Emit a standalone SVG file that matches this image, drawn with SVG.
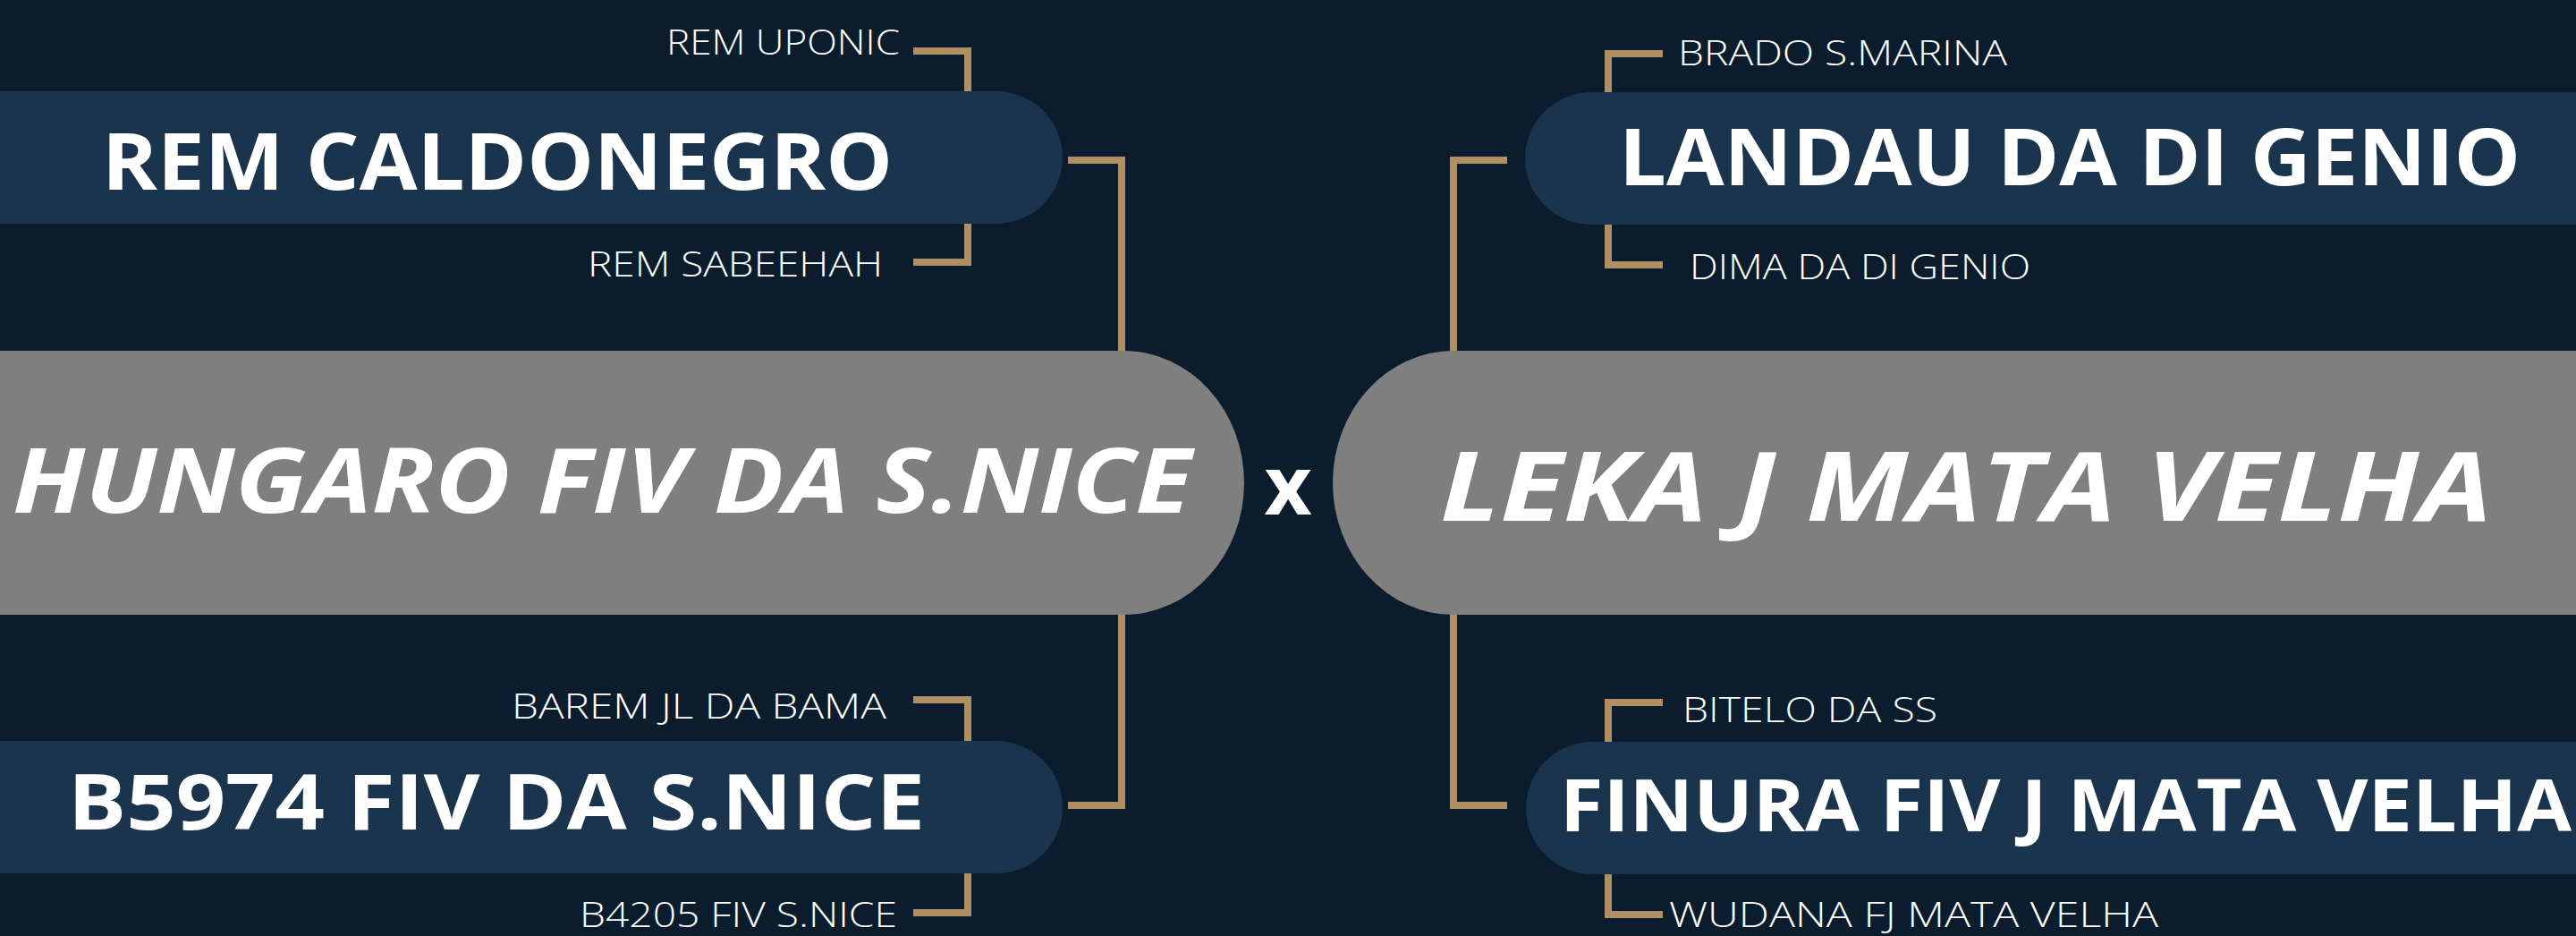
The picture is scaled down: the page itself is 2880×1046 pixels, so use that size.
<svg xmlns="http://www.w3.org/2000/svg" width="2880" height="1046" viewBox="0 0 2880 1046">
<style>
.bg{fill:#0b1d2c}
.navy{fill:#1a344d}
.gray{fill:#7f7f7f}
.link{fill:none;stroke:#b08f63;stroke-width:8;stroke-linejoin:miter;stroke-linecap:butt}
.sm{font-family:"Open Sans","Liberation Sans",sans-serif;font-weight:300;font-size:39px;fill:#ffffff}
.big{font-family:"Open Sans","Liberation Sans",sans-serif;font-weight:700;fill:#ffffff}
.main{font-family:"Open Sans","Liberation Sans",sans-serif;font-weight:700;font-style:italic;fill:#ffffff}
</style>
<rect class="bg" x="0" y="0" width="2880" height="1046"/>
<g id="connectors">
<path class="link" d="M1021,57 H1082 V130"/>
<path class="link" d="M1021,293 H1082 V220"/>
<path class="link" d="M1194,179 H1254 V430"/>
<path class="link" d="M1254,650 V900 H1194"/>
<path class="link" d="M1021,782 H1082 V860"/>
<path class="link" d="M1021,1020 H1082 V950"/>
<path class="link" d="M1685,179 H1625 V430"/>
<path class="link" d="M1625,650 V900 H1685"/>
<path class="link" d="M1859,60 H1798 V130"/>
<path class="link" d="M1859,296 H1798 V220"/>
<path class="link" d="M1859,785 H1798 V860"/>
<path class="link" d="M1859,1022 H1798 V950"/>
</g>
<g id="sire">
<path class="gray" d="M-20,392 H1256 A135,147.5 0 0 1 1256,687 H-20 Z"/>
<text class="main" x="14" y="573" font-size="100" textLength="1318" lengthAdjust="spacingAndGlyphs">HUNGARO FIV DA S.NICE</text>
</g>
<g id="dam">
<path class="gray" d="M2900,392 H1625 A135,147.5 0 0 0 1625,687 H2900 Z"/>
<text class="main" x="1610" y="582" font-size="108" textLength="1176" lengthAdjust="spacingAndGlyphs">LEKA J MATA VELHA</text>
</g>
<g id="cross">
<text class="big" x="1440" y="575" font-size="92" text-anchor="middle">x</text>
</g>
<g id="sire-sire">
<path class="navy" d="M-20,102 H1114 A74,74 0 0 1 1114,250 H-20 Z"/>
<text class="big" x="114" y="212" font-size="88" textLength="884" lengthAdjust="spacingAndGlyphs">REM CALDONEGRO</text>
</g>
<g id="sire-dam">
<path class="navy" d="M-20,828 H1114 A74,74 0 0 1 1114,976 H-20 Z"/>
<text class="big" x="76" y="927" font-size="86" textLength="958" lengthAdjust="spacingAndGlyphs">B5974 FIV DA S.NICE</text>
</g>
<g id="dam-sire">
<path class="navy" d="M2900,103 H1779 A74,74 0 0 0 1779,251 H2900 Z"/>
<text class="big" x="1810" y="207" font-size="88" textLength="1008" lengthAdjust="spacingAndGlyphs">LANDAU DA DI GENIO</text>
</g>
<g id="dam-dam">
<path class="navy" d="M2900,829 H1780 A74,74 0 0 0 1780,977 H2900 Z"/>
<text class="big" x="1744" y="929" font-size="80" textLength="1131" lengthAdjust="spacingAndGlyphs">FINURA FIV J MATA VELHA</text>
</g>
<g id="rem-uponic"><text class="sm" x="745" y="61" textLength="261" lengthAdjust="spacingAndGlyphs">REM UPONIC</text></g>
<g id="rem-sabeehah"><text class="sm" x="657" y="309" textLength="330" lengthAdjust="spacingAndGlyphs">REM SABEEHAH</text></g>
<g id="barem"><text class="sm" x="572" y="803" textLength="419" lengthAdjust="spacingAndGlyphs">BAREM JL DA BAMA</text></g>
<g id="b4205"><text class="sm" x="648" y="1036" textLength="355" lengthAdjust="spacingAndGlyphs">B4205 FIV S.NICE</text></g>
<g id="brado"><text class="sm" x="1876" y="73" textLength="368" lengthAdjust="spacingAndGlyphs">BRADO S.MARINA</text></g>
<g id="dima"><text class="sm" x="1889" y="312" textLength="381" lengthAdjust="spacingAndGlyphs">DIMA DA DI GENIO</text></g>
<g id="bitelo"><text class="sm" x="1881" y="807" textLength="285" lengthAdjust="spacingAndGlyphs">BITELO DA SS</text></g>
<g id="wudana"><text class="sm" x="1866" y="1036" textLength="547" lengthAdjust="spacingAndGlyphs">WUDANA FJ MATA VELHA</text></g>
</svg>
